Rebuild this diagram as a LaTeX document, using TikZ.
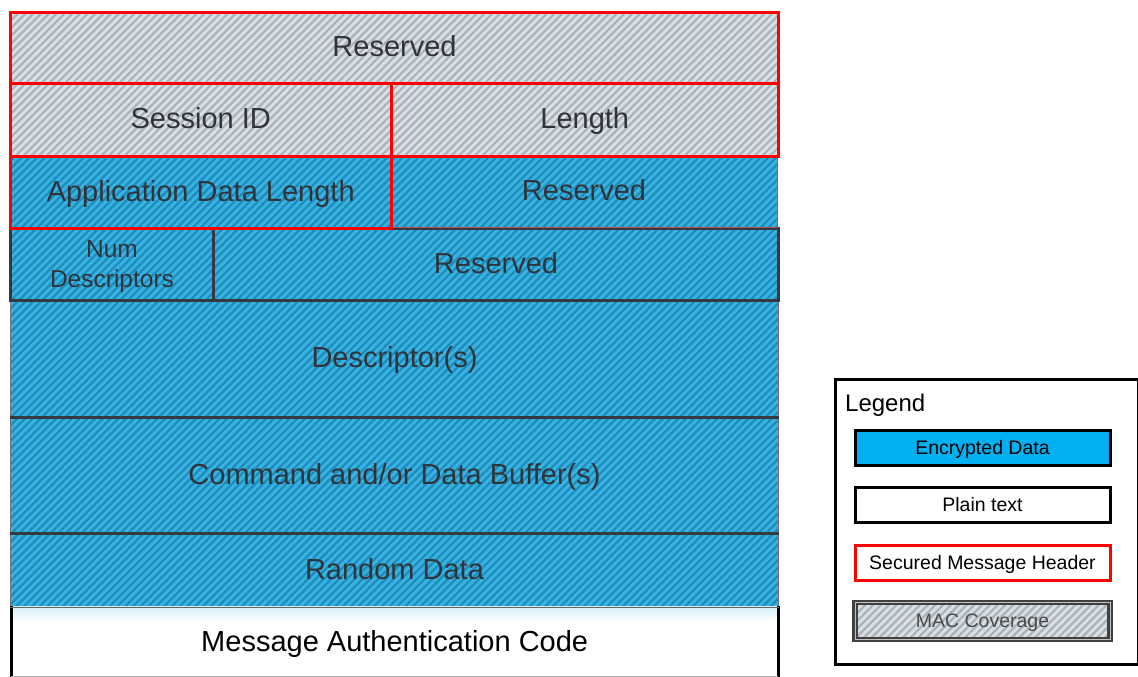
\documentclass[tikz,border=0pt]{standalone}
\usepackage{fontspec}
\setmainfont{Liberation Sans}
\usetikzlibrary{patterns.meta}

\definecolor{encblue}{HTML}{38B3E1}
\definecolor{encstripe}{HTML}{1E8BBA}
\definecolor{macgray}{HTML}{DADFE4}
\definecolor{macstripe}{HTML}{A9B1BA}
\definecolor{hdrred}{HTML}{FF0000}
\definecolor{celltext}{HTML}{30343A}
\definecolor{rulegray}{HTML}{34393F}
\definecolor{legblue}{HTML}{00B0F0}

\tikzset{
  field/.style={rectangle, anchor=north west, inner sep=0pt, text=celltext,
    font=\fontsize{29}{34}\selectfont, align=center, text height=24pt, text depth=6pt},
  enc/.style={field, preaction={fill=encblue},
    pattern={Lines[angle=45,distance=5.5pt,line width=2.2pt]}, pattern color=encstripe},
  mac/.style={field, preaction={fill=macgray},
    pattern={Lines[angle=45,distance=5.5pt,line width=2.2pt]}, pattern color=macstripe},
  redframe/.style={draw=hdrred, line width=2.5pt},
  darkframe/.style={draw=rulegray, line width=3pt},
  thinframe/.style={draw=black!55, line width=1pt},
  sep/.style={draw=rulegray, line width=3pt},
  legitem/.style={rectangle, minimum width=255pt, minimum height=35pt, inner sep=0pt,
    font=\fontsize{19.5}{23}\selectfont, line width=3pt, text height=17pt, text depth=4pt},
}

\begin{document}
\begin{tikzpicture}[x=1pt, y=-1pt]
\useasboundingbox (0,0) rectangle (1138,677);

% encrypted payload blocks
\node[enc, thinframe, minimum width=768pt, minimum height=118pt] (desc) at (10,299) {Descriptor(s)};
\node[enc, thinframe, minimum width=768pt, minimum height=116pt] (cmd) at (10,417) {Command and/or Data Buffer(s)};
\node[enc, thinframe, minimum width=768pt, minimum height=73pt] (rand) at (10,533) {Random Data};
\draw[sep] (desc.north west) -- (desc.north east);
\draw[sep] (cmd.north west) -- (cmd.north east);
\draw[sep] (rand.north west) -- (rand.north east);

% plain-text trailer, with the soft glow cast by the block above it
\node[field, text=black, minimum width=767pt, minimum height=72pt] (mac) at (11,606) {Message Authentication Code};
\shade[top color=encblue!22, bottom color=white] ([xshift=1.5pt]mac.north west) rectangle ([xshift=-1.5pt,yshift=-15pt]mac.north east);
\draw[black, line width=3pt] (mac.north west) -- (mac.south west);
\draw[black, line width=3pt] (mac.north east) -- (mac.south east);
\draw[black!30, line width=1pt] ([yshift=1.5pt]mac.south west) -- ([yshift=1.5pt]mac.south east);
\draw[black!60, line width=1pt] (rand.south west) -- (rand.south east);

% descriptor count row
\node[enc, darkframe, minimum width=203pt, minimum height=72pt, text height=52pt, text depth=6pt,
  font=\fontsize{24.5}{30}\selectfont] (numdesc) at (9,227) {Num\\Descriptors};
\node[enc, darkframe, minimum width=565pt, minimum height=72pt] (resv3) at (212,227) {Reserved};

% secured message header
\node[enc, draw=hdrred!60!black!70, line width=1pt, minimum width=387pt, minimum height=72pt] (resv2) at (390,155) {Reserved};
\node[enc, redframe, minimum width=381pt, minimum height=72pt] (appdl) at (9,155) {Application Data Length};
\node[mac, redframe, minimum width=381pt, minimum height=73pt] (sessid) at (9,82) {Session ID};
\node[mac, redframe, minimum width=387pt, minimum height=73pt] (length) at (390,82) {Length};
\node[mac, draw=hdrred, line width=3pt, minimum width=768pt, minimum height=71pt] (resv1) at (9,11) {Reserved};

% legend
\node[rectangle, draw=black, line width=3pt, anchor=north west, minimum width=303pt,
  minimum height=285pt, inner sep=0pt] (legend) at (833.5,378) {};
\node[anchor=west, inner sep=0pt, font=\fontsize{24}{28}\selectfont] (legtitle) at (845,405) {Legend};
\node[legitem, draw=black, fill=legblue] (legenc) at (982.5,447.5) {Encrypted Data};
\node[legitem, draw=black, fill=white] (legplain) at (982.5,505) {Plain text};
\node[legitem, draw=hdrred, fill=white] (leghdr) at (982.5,563) {Secured Message Header};
\node[legitem, preaction={fill=macgray},
  pattern={Lines[angle=45,distance=5.5pt,line width=2.2pt]}, pattern color=macstripe,
  draw=black!75, line width=2.6pt, double=macgray!60!black!50, double distance=0.6pt,
  minimum height=37pt, text=black!70] (legmac) at (982.5,621) {MAC Coverage};
\end{tikzpicture}
\end{document}
